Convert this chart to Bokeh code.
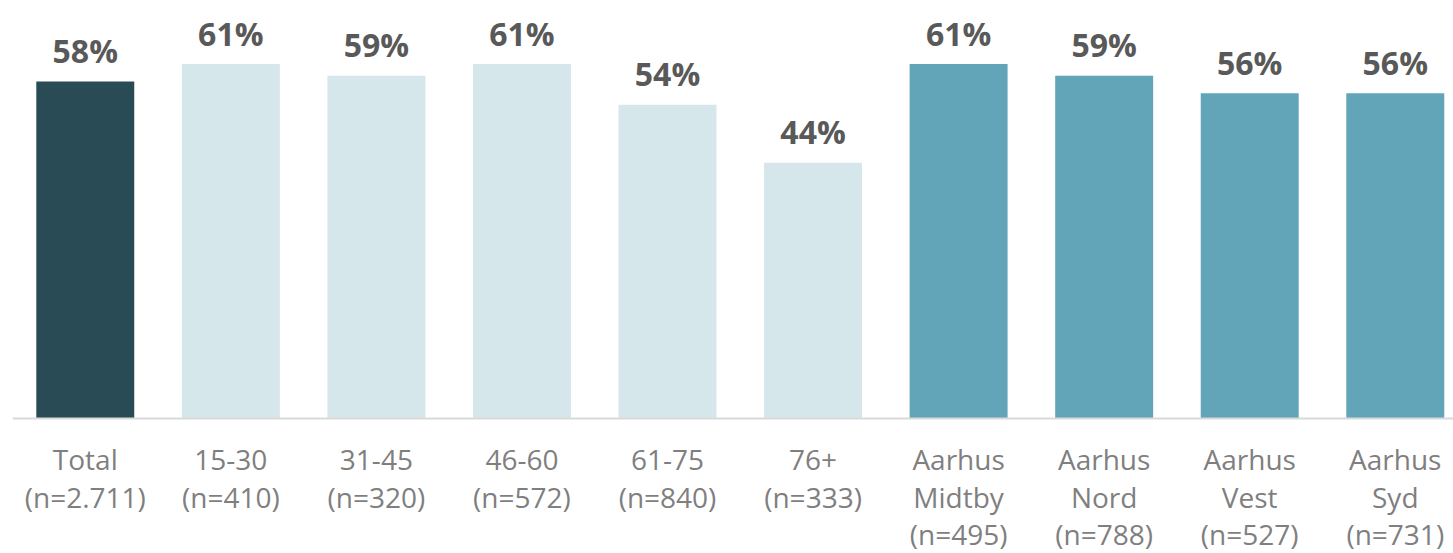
from bokeh.plotting import figure
from bokeh.models import ColumnDataSource, Range1d, Span
from bokeh.core.properties import value
from bokeh.embed import file_html
from bokeh.resources import INLINE

categories = ["Total\n(n=2.711)", "15-30\n(n=410)", "31-45\n(n=320)", "46-60\n(n=572)",
              "61-75\n(n=840)", "76+\n(n=333)", "Aarhus\nMidtby\n(n=495)", "Aarhus\nNord\n(n=788)",
              "Aarhus\nVest\n(n=527)", "Aarhus\nSyd\n(n=731)"]
values = [58, 61, 59, 61, 54, 44, 61, 59, 56, 56]
value_labels = ["58%", "61%", "59%", "61%", "54%", "44%", "61%", "59%", "56%", "56%"]
groups = ["total", "age", "age", "age", "age", "age", "area", "area", "area", "area"]

palette = {"total": "#284B56", "age": "#D6E7EC", "area": "#62A5B8"}

x = [i + 0.5 for i in range(len(categories))]
src = ColumnDataSource(dict(x=x, top=values, cat=categories, lab=value_labels,
                            color=[palette[g] for g in groups], zero=[0] * len(values)))

p = figure(width=1453, height=553, output_backend="svg", toolbar_location=None,
           x_range=Range1d(0, 9.9), y_range=Range1d(-23.24, 71.95),
           min_border_left=12, min_border_right=0, min_border_top=0, min_border_bottom=0)
p.axis.visible = False
p.grid.visible = False
p.outline_line_color = None
p.background_fill_color = "white"

p.vbar(x="x", top="top", bottom=0, width=0.673, color="color", line_color=None, source=src)
p.add_layout(Span(location=0, dimension="width", line_color="#D9D9D9", line_width=2))

p.text(x="x", y="top", text="lab", source=src, text_align="center", text_baseline="alphabetic",
       y_offset=-31, text_font=value("Open Sans"), text_font_style="bold",
       text_font_size="32px", text_color="#595959")
p.text(x="x", y="zero", text="cat", source=src, text_align="center", text_baseline="top",
       y_offset=22, text_font=value("Open Sans"), text_font_size="28px",
       text_color="#7F7F7F", text_line_height=0.98)

open("out.html", "w").write(file_html(p, INLINE))
